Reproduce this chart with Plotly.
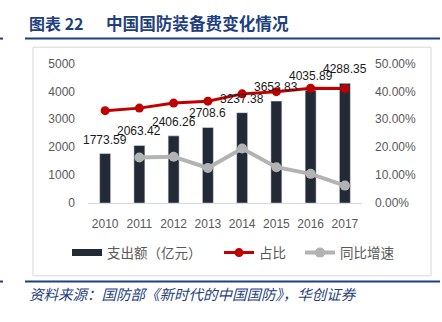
import plotly.graph_objects as go

years = ["2010", "2011", "2012", "2013", "2014", "2015", "2016", "2017"]
spend = [1773.59, 2063.42, 2406.26, 2708.6, 3237.38, 3653.83, 4035.89, 4288.35]
share = [0.331, 0.340, 0.358, 0.365, 0.391, 0.399, 0.411, 0.410]
growth = [None, 0.1634, 0.1662, 0.1257, 0.1952, 0.1286, 0.1046, 0.0626]

W, H = 442, 322
def px(x):
    return x / W
def py(y):
    return 1 - y / H

BAR = "#232a36"
RED = "#c00000"
GRAY = "#b3b3b3"
BLUE = "#1f3f80"
TICK = "#595959"

fig = go.Figure()
fig.add_trace(go.Bar(
    x=years, y=spend, marker_color=BAR, width=0.32, showlegend=False,
))
fig.add_trace(go.Scatter(
    x=[years[0]], y=[None], mode="lines", name="支出额（亿元）",
    line=dict(color=BAR, width=7), legend="legend",
))
fig.add_trace(go.Scatter(
    x=years, y=share, mode="lines+markers", name="占比", yaxis="y2",
    line=dict(color=RED, width=3), marker=dict(color=RED, size=9),
    legend="legend2", cliponaxis=False,
))
fig.add_trace(go.Scatter(
    x=years, y=growth, mode="lines+markers", name="同比增速", yaxis="y2",
    line=dict(color=GRAY, width=4), marker=dict(color=GRAY, size=10),
    legend="legend3", cliponaxis=False,
))

# data labels above bars (x given as category index)
for i, v in enumerate(spend):
    fig.add_annotation(x=i, y=v, xref="x", yref="y", text=str(v),
                       showarrow=False, yanchor="middle", yshift=14,
                       font=dict(size=12, color="#1a1a1a", family="Liberation Sans"))

tickfont = dict(size=12, color=TICK, family="Liberation Sans")
legfont = dict(size=13.5, color=TICK, family="Noto Sans CJK SC")
legcommon = dict(orientation="h", yanchor="middle", xanchor="left",
                 font=legfont, bgcolor="rgba(0,0,0,0)", itemwidth=30)

fig.update_layout(
    width=W, height=H, margin=dict(l=0, r=0, t=0, b=0),
    paper_bgcolor="white", plot_bgcolor="white",
    xaxis=dict(domain=[px(88), px(362)], showgrid=False, showline=True,
               linecolor="#d9d9d9", linewidth=1, ticks="", tickfont=tickfont,
               ticklabelstandoff=10, type="category",
               categoryorder="array", categoryarray=years,
               range=[-0.5, len(years) - 0.5], autorange=False),
    yaxis=dict(range=[0, 5000], dtick=1000, showgrid=False, zeroline=False,
               showline=False, tickfont=tickfont, ticklabelstandoff=12,
               domain=[py(205), py(59)], autorange=False),
    yaxis2=dict(range=[0, 0.5], dtick=0.1, tickformat=".2%", overlaying="y",
                side="right", showgrid=False, zeroline=False, showline=False,
                tickfont=tickfont, ticklabelstandoff=12, autorange=False),
    legend=dict(x=px(67), y=py(257), **legcommon),
    legend2=dict(x=px(219), y=py(257), **legcommon),
    legend3=dict(x=px(300), y=py(257), **legcommon),
)

shapes = [
    dict(type="rect", xref="paper", yref="paper", x0=px(33), x1=px(431),
         y0=py(281), y1=py(42), line=dict(color="#d9d9d9", width=1)),
    dict(type="line", xref="paper", yref="paper", x0=px(25), x1=px(440),
         y0=py(33), y1=py(33), line=dict(color=BLUE, width=2)),
    dict(type="line", xref="paper", yref="paper", x0=0, x1=px(3),
         y0=py(33), y1=py(33), line=dict(color=BLUE, width=2)),
    dict(type="line", xref="paper", yref="paper", x0=px(25), x1=px(440),
         y0=py(287), y1=py(287), line=dict(color=BLUE, width=2)),
    dict(type="line", xref="paper", yref="paper", x0=0, x1=px(3),
         y0=py(287), y1=py(287), line=dict(color=BLUE, width=2)),
]
fig.update_layout(shapes=shapes)

fig.add_annotation(x=px(27), y=py(17), xref="paper", yref="paper",
                   xanchor="left", yanchor="middle", showarrow=False,
                   text="<b>图表 22</b>",
                   font=dict(size=16, color=BLUE, family="Noto Sans CJK SC"))
fig.add_annotation(x=px(104), y=py(17), xref="paper", yref="paper",
                   xanchor="left", yanchor="middle", showarrow=False,
                   text="<b>中国国防装备费变化情况</b>",
                   font=dict(size=16.6, color=BLUE, family="Noto Sans CJK SC"))
fig.add_annotation(x=px(27), y=py(300), xref="paper", yref="paper",
                   xanchor="left", yanchor="middle", showarrow=False,
                   text="<i>资料来源：国防部《新时代的中国国防》，华创证券</i>",
                   font=dict(size=14.5, color=BLUE, family="Noto Sans CJK SC"))

fig.write_html("out.html")
